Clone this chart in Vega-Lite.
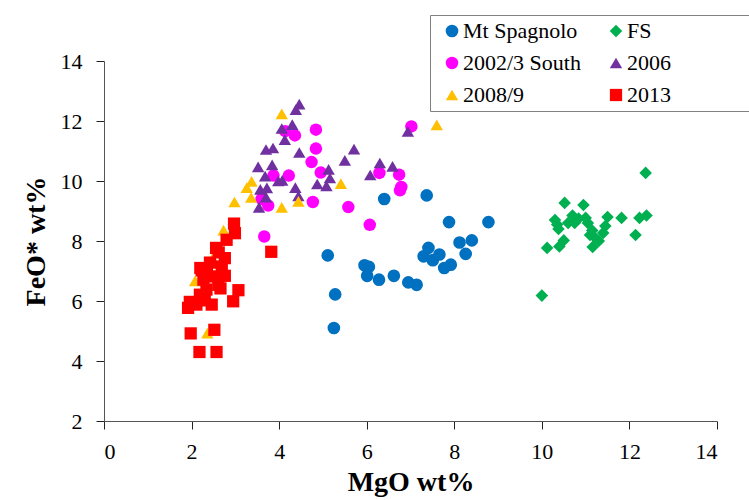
{
  "$schema": "https://vega.github.io/schema/vega-lite/v6.json",
  "width": 613,
  "height": 360,
  "autosize": "none",
  "padding": {"left": 104, "top": 61, "right": 32, "bottom": 79},
  "background": "white",
  "config": {
    "view": {"stroke": null}
  },
  "data": {
    "values": [
      {"s": "Mt Spagnolo", "MgO": 5.11, "FeO": 7.52},
      {"s": "Mt Spagnolo", "MgO": 5.28, "FeO": 6.22},
      {"s": "Mt Spagnolo", "MgO": 5.25, "FeO": 5.1},
      {"s": "Mt Spagnolo", "MgO": 6.4, "FeO": 9.4},
      {"s": "Mt Spagnolo", "MgO": 7.37, "FeO": 9.52},
      {"s": "Mt Spagnolo", "MgO": 5.95, "FeO": 7.19},
      {"s": "Mt Spagnolo", "MgO": 6.05, "FeO": 7.14},
      {"s": "Mt Spagnolo", "MgO": 6.01, "FeO": 6.84},
      {"s": "Mt Spagnolo", "MgO": 6.28, "FeO": 6.71},
      {"s": "Mt Spagnolo", "MgO": 6.62, "FeO": 6.84},
      {"s": "Mt Spagnolo", "MgO": 6.95, "FeO": 6.62},
      {"s": "Mt Spagnolo", "MgO": 7.14, "FeO": 6.54},
      {"s": "Mt Spagnolo", "MgO": 7.3, "FeO": 7.49},
      {"s": "Mt Spagnolo", "MgO": 7.41, "FeO": 7.77},
      {"s": "Mt Spagnolo", "MgO": 7.51, "FeO": 7.36},
      {"s": "Mt Spagnolo", "MgO": 7.66, "FeO": 7.55},
      {"s": "Mt Spagnolo", "MgO": 7.77, "FeO": 7.1},
      {"s": "Mt Spagnolo", "MgO": 7.92, "FeO": 7.21},
      {"s": "Mt Spagnolo", "MgO": 7.88, "FeO": 8.63},
      {"s": "Mt Spagnolo", "MgO": 8.12, "FeO": 7.95},
      {"s": "Mt Spagnolo", "MgO": 8.4, "FeO": 8.02},
      {"s": "Mt Spagnolo", "MgO": 8.26, "FeO": 7.57},
      {"s": "Mt Spagnolo", "MgO": 8.78, "FeO": 8.63},
      {"s": "FS", "MgO": 10.0, "FeO": 6.18},
      {"s": "FS", "MgO": 10.12, "FeO": 7.77},
      {"s": "FS", "MgO": 10.3, "FeO": 8.7},
      {"s": "FS", "MgO": 10.35, "FeO": 8.55},
      {"s": "FS", "MgO": 10.38, "FeO": 8.4},
      {"s": "FS", "MgO": 10.4, "FeO": 7.82},
      {"s": "FS", "MgO": 10.5, "FeO": 8.02},
      {"s": "FS", "MgO": 10.52, "FeO": 9.27},
      {"s": "FS", "MgO": 10.6, "FeO": 8.6},
      {"s": "FS", "MgO": 10.7, "FeO": 8.85},
      {"s": "FS", "MgO": 10.75, "FeO": 8.6},
      {"s": "FS", "MgO": 10.84, "FeO": 8.75},
      {"s": "FS", "MgO": 10.95, "FeO": 9.2},
      {"s": "FS", "MgO": 11.0, "FeO": 8.77},
      {"s": "FS", "MgO": 11.05, "FeO": 8.6},
      {"s": "FS", "MgO": 11.1, "FeO": 8.2},
      {"s": "FS", "MgO": 11.15, "FeO": 8.35},
      {"s": "FS", "MgO": 11.16, "FeO": 7.8},
      {"s": "FS", "MgO": 11.22, "FeO": 8.1},
      {"s": "FS", "MgO": 11.3, "FeO": 8.0},
      {"s": "FS", "MgO": 11.4, "FeO": 8.27},
      {"s": "FS", "MgO": 11.45, "FeO": 8.5},
      {"s": "FS", "MgO": 11.5, "FeO": 8.8},
      {"s": "FS", "MgO": 11.82, "FeO": 8.77},
      {"s": "FS", "MgO": 12.14, "FeO": 8.2},
      {"s": "FS", "MgO": 12.23, "FeO": 8.77},
      {"s": "FS", "MgO": 12.39, "FeO": 8.85},
      {"s": "FS", "MgO": 12.37, "FeO": 10.27},
      {"s": "2002/3 South", "MgO": 3.66, "FeO": 8.15},
      {"s": "2002/3 South", "MgO": 3.75, "FeO": 9.18},
      {"s": "2002/3 South", "MgO": 3.6, "FeO": 9.4},
      {"s": "2002/3 South", "MgO": 3.87, "FeO": 10.18},
      {"s": "2002/3 South", "MgO": 4.22, "FeO": 10.18},
      {"s": "2002/3 South", "MgO": 4.14, "FeO": 11.66},
      {"s": "2002/3 South", "MgO": 4.36, "FeO": 11.52},
      {"s": "2002/3 South", "MgO": 4.77, "FeO": 9.3},
      {"s": "2002/3 South", "MgO": 4.74, "FeO": 10.63},
      {"s": "2002/3 South", "MgO": 4.84, "FeO": 11.71},
      {"s": "2002/3 South", "MgO": 4.84, "FeO": 11.08},
      {"s": "2002/3 South", "MgO": 4.95, "FeO": 10.28},
      {"s": "2002/3 South", "MgO": 5.58, "FeO": 9.13},
      {"s": "2002/3 South", "MgO": 6.07, "FeO": 8.54},
      {"s": "2002/3 South", "MgO": 6.29, "FeO": 10.27},
      {"s": "2002/3 South", "MgO": 6.74, "FeO": 10.21},
      {"s": "2002/3 South", "MgO": 6.76, "FeO": 9.69},
      {"s": "2002/3 South", "MgO": 6.79, "FeO": 9.8},
      {"s": "2002/3 South", "MgO": 7.02, "FeO": 11.82},
      {"s": "2006", "MgO": 4.46, "FeO": 12.56},
      {"s": "2006", "MgO": 4.38, "FeO": 12.38},
      {"s": "2006", "MgO": 4.06, "FeO": 11.75},
      {"s": "2006", "MgO": 4.3, "FeO": 11.88},
      {"s": "2006", "MgO": 4.13, "FeO": 11.38},
      {"s": "2006", "MgO": 3.7, "FeO": 11.05},
      {"s": "2006", "MgO": 3.86, "FeO": 11.1},
      {"s": "2006", "MgO": 4.46, "FeO": 10.95},
      {"s": "2006", "MgO": 3.52, "FeO": 10.47},
      {"s": "2006", "MgO": 3.84, "FeO": 10.54},
      {"s": "2006", "MgO": 3.68, "FeO": 10.16},
      {"s": "2006", "MgO": 3.98, "FeO": 10.0},
      {"s": "2006", "MgO": 4.07, "FeO": 10.02},
      {"s": "2006", "MgO": 3.57, "FeO": 9.72},
      {"s": "2006", "MgO": 3.72, "FeO": 9.77},
      {"s": "2006", "MgO": 4.37, "FeO": 9.78},
      {"s": "2006", "MgO": 4.44, "FeO": 9.5},
      {"s": "2006", "MgO": 3.7, "FeO": 9.46},
      {"s": "2006", "MgO": 3.54, "FeO": 9.12},
      {"s": "2006", "MgO": 4.87, "FeO": 9.9},
      {"s": "2006", "MgO": 5.13, "FeO": 10.39},
      {"s": "2006", "MgO": 5.16, "FeO": 10.1},
      {"s": "2006", "MgO": 5.08, "FeO": 9.84},
      {"s": "2006", "MgO": 5.5, "FeO": 10.69},
      {"s": "2006", "MgO": 5.71, "FeO": 11.06},
      {"s": "2006", "MgO": 6.08, "FeO": 10.2},
      {"s": "2006", "MgO": 6.3, "FeO": 10.6},
      {"s": "2006", "MgO": 6.59, "FeO": 10.49},
      {"s": "2006", "MgO": 6.94, "FeO": 11.65},
      {"s": "2008/9", "MgO": 4.06, "FeO": 12.24},
      {"s": "2008/9", "MgO": 7.6, "FeO": 11.87},
      {"s": "2008/9", "MgO": 3.37, "FeO": 9.99},
      {"s": "2008/9", "MgO": 3.26, "FeO": 9.78},
      {"s": "2008/9", "MgO": 3.36, "FeO": 9.45},
      {"s": "2008/9", "MgO": 2.98, "FeO": 9.3},
      {"s": "2008/9", "MgO": 4.06, "FeO": 9.12},
      {"s": "2008/9", "MgO": 4.44, "FeO": 9.32},
      {"s": "2008/9", "MgO": 5.41, "FeO": 9.91},
      {"s": "2008/9", "MgO": 2.73, "FeO": 8.36},
      {"s": "2008/9", "MgO": 2.48, "FeO": 7.43},
      {"s": "2008/9", "MgO": 2.08, "FeO": 6.67},
      {"s": "2008/9", "MgO": 2.36, "FeO": 4.93},
      {"s": "2013", "MgO": 1.92, "FeO": 5.77},
      {"s": "2013", "MgO": 1.96, "FeO": 5.97},
      {"s": "2013", "MgO": 1.98, "FeO": 4.92},
      {"s": "2013", "MgO": 2.11, "FeO": 5.88},
      {"s": "2013", "MgO": 2.19, "FeO": 6.21},
      {"s": "2013", "MgO": 2.18, "FeO": 4.3},
      {"s": "2013", "MgO": 2.2, "FeO": 7.1},
      {"s": "2013", "MgO": 2.23, "FeO": 7.02},
      {"s": "2013", "MgO": 2.27, "FeO": 6.71},
      {"s": "2013", "MgO": 2.34, "FeO": 6.38},
      {"s": "2013", "MgO": 2.42, "FeO": 7.28},
      {"s": "2013", "MgO": 2.46, "FeO": 5.88},
      {"s": "2013", "MgO": 2.49, "FeO": 6.82},
      {"s": "2013", "MgO": 2.52, "FeO": 5.04},
      {"s": "2013", "MgO": 2.57, "FeO": 4.3},
      {"s": "2013", "MgO": 2.56, "FeO": 7.77},
      {"s": "2013", "MgO": 2.61, "FeO": 6.54},
      {"s": "2013", "MgO": 2.66, "FeO": 6.42},
      {"s": "2013", "MgO": 2.69, "FeO": 7.15},
      {"s": "2013", "MgO": 2.76, "FeO": 7.43},
      {"s": "2013", "MgO": 2.76, "FeO": 6.84},
      {"s": "2013", "MgO": 2.8, "FeO": 8.04},
      {"s": "2013", "MgO": 2.97, "FeO": 8.58},
      {"s": "2013", "MgO": 2.99, "FeO": 8.26},
      {"s": "2013", "MgO": 2.95, "FeO": 5.99},
      {"s": "2013", "MgO": 3.07, "FeO": 6.36},
      {"s": "2013", "MgO": 3.82, "FeO": 7.64},
      {"s": "2013", "MgO": 2.62, "FeO": 7.62},
      {"s": "2013", "MgO": 2.3, "FeO": 6.02},
      {"s": "2013", "MgO": 2.35, "FeO": 6.9}
    ]
  },
  "mark": {"type": "point", "filled": true, "opacity": 1},
  "encoding": {
    "x": {
      "field": "MgO", "type": "quantitative",
      "scale": {"domain": [0, 14], "nice": false, "zero": false},
      "axis": {
        "title": "MgO wt%", "values": [0, 2, 4, 6, 8, 10, 12, 14],
        "grid": false, "domainColor": "#555", "tickColor": "#222", "tickSize": 8,
        "labelFont": "Liberation Serif", "labelFontSize": 22, "labelColor": "#000", "labelPadding": 12,
        "titleFont": "Liberation Serif", "titleFontSize": 28, "titleFontWeight": "bold", "titleColor": "#000", "titlePadding": 6
      }
    },
    "y": {
      "field": "FeO", "type": "quantitative",
      "scale": {"domain": [2, 14], "nice": false, "zero": false},
      "axis": {
        "title": "FeO* wt%", "values": [2, 4, 6, 8, 10, 12, 14],
        "grid": false, "domainColor": "#555", "tickColor": "#222", "tickSize": 8,
        "labelFont": "Liberation Serif", "labelFontSize": 22, "labelColor": "#000", "labelPadding": 14,
        "titleFont": "Liberation Serif", "titleFontSize": 28, "titleFontWeight": "bold", "titleColor": "#000", "titlePadding": 10
      }
    },
    "color": {
      "field": "s", "type": "nominal",
      "scale": {
        "domain": ["Mt Spagnolo", "FS", "2002/3 South", "2006", "2008/9", "2013"],
        "range": ["#0070C0", "#00B050", "#FF00FF", "#7030A0", "#FFC000", "#FF0000"]
      },
      "legend": {
        "title": null, "orient": "none", "legendX": 326, "legendY": -46, "direction": "horizontal",
        "columns": 2, "columnPadding": 18, "rowPadding": 10,
        "padding": 5, "symbolOffset": 6, "labelOffset": 0, "symbolSize": 100,
        "labelFont": "Liberation Serif", "labelFontSize": 22, "labelColor": "#000",
        "strokeColor": "#808080", "fillColor": "white",
        "labelExpr": "datum.label == 'FS' ? 'FS⠀⠀⠀⠀⠀⠀⠀⠀⠀⠀⠀⠀⠀⠀' : datum.label"
      }
    },
    "shape": {
      "field": "s", "type": "nominal",
      "scale": {
        "domain": ["Mt Spagnolo", "FS", "2002/3 South", "2006", "2008/9", "2013"],
        "range": ["circle", "diamond", "circle", "triangle-up", "triangle-up", "square"]
      },
      "legend": {
        "title": null, "orient": "none", "legendX": 326, "legendY": -46, "direction": "horizontal",
        "columns": 2, "columnPadding": 18, "rowPadding": 10,
        "padding": 5, "symbolOffset": 6, "labelOffset": 0, "symbolSize": 100,
        "labelFont": "Liberation Serif", "labelFontSize": 22, "labelColor": "#000",
        "strokeColor": "#808080", "fillColor": "white",
        "labelExpr": "datum.label == 'FS' ? 'FS⠀⠀⠀⠀⠀⠀⠀⠀⠀⠀⠀⠀⠀⠀' : datum.label"
      }
    },
    "size": {
      "field": "s", "type": "nominal",
      "scale": {
        "domain": ["Mt Spagnolo", "FS", "2002/3 South", "2006", "2008/9", "2013"],
        "range": [160, 150, 170, 190, 190, 150]
      },
      "legend": null
    }
  }
}
